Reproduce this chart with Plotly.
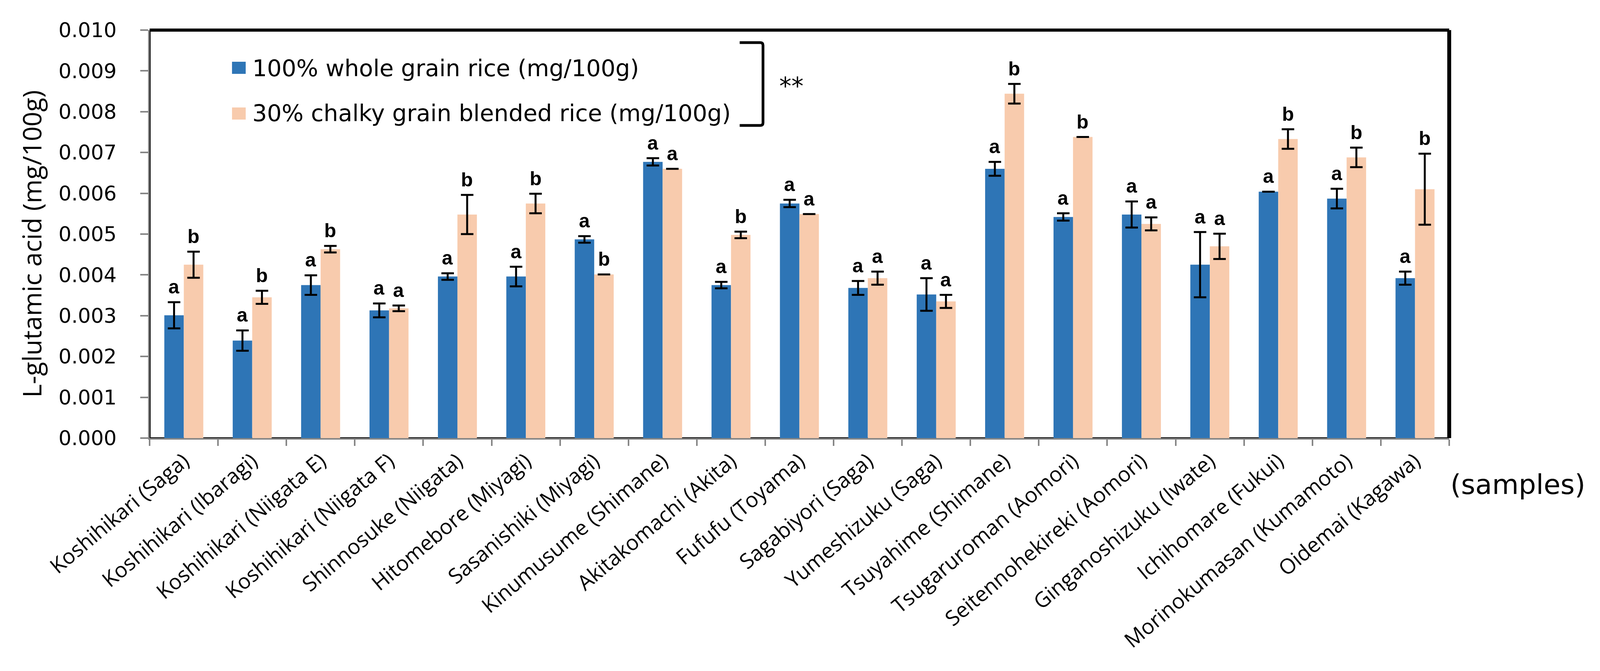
import plotly.graph_objects as go

# ---------------- data ----------------
categories = [
    "Koshihikari (Saga)", "Koshihikari (Ibaragi)", "Koshihikari (Niigata E)",
    "Koshihikari (Niigata F)", "Shinnosuke (Niigata)", "Hitomebore (Miyagi)",
    "Sasanishiki (Miyagi)", "Kinumusume (Shimane)", "Akitakomachi (Akita)",
    "Fufufu (Toyama)", "Sagabiyori (Saga)", "Yumeshizuku (Saga)",
    "Tsuyahime (Shimane)", "Tsugaruroman (Aomori)", "Seitennohekireki (Aomori)",
    "Ginganoshizuku (Iwate)", "Ichihomare (Fukui)", "Morinokumasan (Kumamoto)",
    "Oidemai (Kagawa)",
]
whole_name = "100% whole grain rice (mg/100g)"
chalky_name = "30% chalky grain blended rice (mg/100g)"

whole = [0.00301, 0.00239, 0.00375, 0.00313, 0.00396, 0.00396, 0.00487, 0.00677,
         0.00375, 0.00575, 0.00368, 0.00352, 0.00660, 0.00542, 0.00548, 0.00425,
         0.00604, 0.00587, 0.00392]
whole_err = [0.00032, 0.00025, 0.00024, 0.00017, 0.00008, 0.00024, 0.00008, 0.00009,
             0.00008, 0.00009, 0.00017, 0.00040, 0.00017, 0.00009, 0.00032, 0.00080,
             0.00000, 0.00024, 0.00016]
chalky = [0.00425, 0.00345, 0.00463, 0.00318, 0.00548, 0.00575, 0.00401, 0.00660,
          0.00498, 0.00549, 0.00392, 0.00335, 0.00844, 0.00738, 0.00525, 0.00470,
          0.00733, 0.00688, 0.00610]
chalky_err = [0.00032, 0.00016, 0.00008, 0.00007, 0.00048, 0.00024, 0.00000, 0.00000,
              0.00008, 0.00000, 0.00016, 0.00016, 0.00024, 0.00000, 0.00016, 0.00031,
              0.00024, 0.00024, 0.00087]
whole_letters = ["a"] * 19
chalky_letters = ["b", "b", "b", "a", "b", "b", "b", "a", "b", "a",
                  "a", "a", "b", "b", "a", "a", "b", "b", "b"]
y_ticks = [0.000, 0.001, 0.002, 0.003, 0.004, 0.005, 0.006, 0.007, 0.008, 0.009, 0.010]
y_title = "L-glutamic acid (mg/100g)"
x_title = "(samples)"
signif = "**"

# ---------------- style ----------------
BLUE = "#2E75B6"
PINK = "#F8CBAD"
GRAY = "#868686"
REF_W = 4324                 # reference width
W, H = 4096, 1717            # visible browser viewport
SX = W / REF_W               # horizontal scale from reference pixels
L = round(404 * SX)
R = W - round(3916 * SX)
T, B = 77, 596
PW = W - L - R
PH = H - T - B


def px_x(px):
    """reference x pixel -> paper fraction"""
    return (px * SX - L) / PW


def px_y(py):
    return (H - B - py) / PH


fig = go.Figure()
err_style = dict(type="data", visible=True, color="black", thickness=5, width=16)
fig.add_trace(go.Bar(x=categories, y=whole, name=whole_name, marker_color=BLUE,
                     marker_line_width=0,
                     error_y=dict(array=whole_err, **err_style), showlegend=False))
fig.add_trace(go.Bar(x=categories, y=chalky, name=chalky_name, marker_color=PINK,
                     marker_line_width=0,
                     error_y=dict(array=chalky_err, **err_style), showlegend=False))

annotations = []
letter_font = dict(family="Liberation Sans", size=50, color="black")
for i, c in enumerate(categories):
    annotations.append(dict(x=c, y=whole[i] + whole_err[i], xref="x", yref="y",
                            text="<b>%s</b>" % whole_letters[i], showarrow=False,
                            xshift=-25, yshift=9, yanchor="bottom", font=letter_font))
    annotations.append(dict(x=c, y=chalky[i] + chalky_err[i], xref="x", yref="y",
                            text="<b>%s</b>" % chalky_letters[i], showarrow=False,
                            xshift=25, yshift=9, yanchor="bottom", font=letter_font))

annotations.append(dict(x=px_x(84), y=px_y(624), xref="paper", yref="paper",
                        text=y_title, textangle=-90, showarrow=False,
                        xanchor="center", yanchor="middle",
                        font=dict(family="Open Sans", size=66, color="black")))
annotations.append(dict(x=px_x(3918), y=px_y(1240), xref="paper", yref="paper",
                        text=x_title, showarrow=False, xanchor="left", yanchor="middle",
                        font=dict(family="DejaVu Sans", size=70, color="black")))
leg_font = dict(family="DejaVu Sans", size=59, color="black")
annotations.append(dict(x=px_x(680), y=px_y(174), xref="paper", yref="paper",
                        text=whole_name, showarrow=False, xanchor="left",
                        yanchor="middle", font=leg_font))
annotations.append(dict(x=px_x(680), y=px_y(290), xref="paper", yref="paper",
                        text=chalky_name, showarrow=False, xanchor="left",
                        yanchor="middle", font=leg_font))
annotations.append(dict(x=px_x(2139), y=px_y(220), xref="paper", yref="paper",
                        text=signif, showarrow=False, xanchor="center",
                        yanchor="middle", font=dict(family="DejaVu Sans", size=62,
                                                    color="black")))

shapes = []
shapes.append(dict(type="rect", xref="paper", yref="paper", x0=px_x(627), x1=px_x(664),
                   y0=px_y(189), y1=px_y(158), fillcolor=BLUE, line_width=0))
shapes.append(dict(type="rect", xref="paper", yref="paper", x0=px_x(627), x1=px_x(664),
                   y0=px_y(306), y1=px_y(275), fillcolor=PINK, line_width=0))
bx0, bx1, by0, by1 = px_x(1999), px_x(2062), px_y(109), px_y(321)
dx, dy = px_x(2062) - px_x(2055), px_y(109) - px_y(116)
path = (f"M {bx0},{by0} L {bx1 - dx},{by0} Q {bx1},{by0} {bx1},{by0 - dy} "
        f"L {bx1},{by1 + dy} Q {bx1},{by1} {bx1 - dx},{by1} L {bx0},{by1}")
shapes.append(dict(type="path", xref="paper", yref="paper", path=path,
                   line=dict(color="black", width=7)))
shapes.append(dict(type="line", xref="paper", yref="paper", x0=0, x1=1, y0=1, y1=1,
                   line=dict(color="black", width=8)))
shapes.append(dict(type="line", xref="paper", yref="paper", x0=1, x1=1, y0=0, y1=1,
                   line=dict(color="black", width=10)))
shapes.append(dict(type="line", xref="paper", yref="paper", x0=0, x1=0, y0=0, y1=1,
                   line=dict(color="black", width=5), layer="below"))
shapes.append(dict(type="line", xref="paper", yref="paper", x0=0, x1=1, y0=0, y1=0,
                   line=dict(color="black", width=4), layer="below"))

fig.update_layout(
    width=W, height=H,
    margin=dict(l=L, r=R, t=T, b=B, pad=0),
    paper_bgcolor="white", plot_bgcolor="white",
    barmode="group", bargap=0.43, bargroupgap=0,
    showlegend=False,
    annotations=annotations, shapes=shapes,
    font=dict(family="DejaVu Sans", color="black"),
)
fig.update_xaxes(
    type="category", range=[-0.5, len(categories) - 0.5],
    showline=True, linecolor=GRAY, linewidth=4,
    ticks="outside", tickson="boundaries", ticklen=16, tickwidth=4, tickcolor=GRAY,
    tickangle=-40, ticklabelstandoff=2,
    tickfont=dict(family="Open Sans", size=54, color="black"),
    showgrid=False, zeroline=False, automargin=False,
)
fig.update_yaxes(
    range=[0, 0.010], tickvals=y_ticks, tickformat=".3f",
    showline=True, linecolor=GRAY, linewidth=4,
    ticks="outside", ticklen=20, tickwidth=4, tickcolor=GRAY,
    ticklabelstandoff=50,
    tickfont=dict(family="DejaVu Sans", size=52, color="black"),
    showgrid=False, zeroline=False, automargin=False,
)

fig.write_html("out.html", post_script="document.body.style.margin='0';",
               config={"displayModeBar": False})
